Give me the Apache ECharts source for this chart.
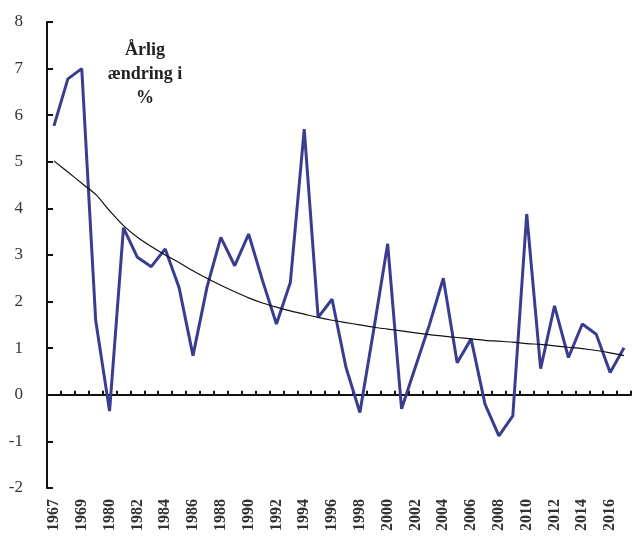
<!DOCTYPE html>
<html>
<head>
<meta charset="utf-8">
<script src="https://cdn.jsdelivr.net/npm/echarts@6/dist/echarts.min.js"></script>
<style>html,body{margin:0;padding:0;background:#fff;}#c{width:632px;height:545px;}</style>
</head>
<body>
<div id="c"></div>
<script>
var years = ['1967','1968','1969','1979','1980','1981','1982','1983','1984','1985','1986','1987','1988','1989','1990','1991','1992','1993','1994','1995','1996','1997','1998','1999','2000','2001','2002','2003','2004','2005','2006','2007','2008','2009','2010','2011','2012','2013','2014','2015','2016','2017'];
var change = [5.77,6.78,7.0,1.6,-0.35,3.58,2.95,2.75,3.13,2.3,0.84,2.3,3.38,2.77,3.45,2.45,1.52,2.41,5.7,1.66,2.05,0.59,-0.38,1.4,3.24,-0.3,0.6,1.5,2.5,0.69,1.2,-0.2,-0.88,-0.45,3.88,0.56,1.91,0.8,1.52,1.3,0.48,1.01];
var trend = [5.02,4.78,4.54,4.3,3.95,3.63,3.38,3.18,3.0,2.84,2.66,2.5,2.35,2.21,2.08,1.97,1.88,1.8,1.73,1.66,1.6,1.55,1.5,1.45,1.41,1.37,1.33,1.29,1.26,1.23,1.2,1.17,1.15,1.13,1.1,1.08,1.05,1.02,0.99,0.95,0.9,0.84];
var yTicks = {min: -2, max: 8, interval: 1};
var titleLines = ['Årlig', 'ændring i', '%'];

var chart = echarts.init(document.getElementById('c'));
chart.setOption({
  animation: false,
  backgroundColor: '#fff',
  grid: {left: 47, right: 1, top: 22, bottom: 57},
  graphic: [{
    type: 'text', x: 145, y: 38,
    style: {
      text: titleLines.join('\n'), textAlign: 'center', textVerticalAlign: 'top',
      font: 'bold 18px "Liberation Serif", serif', fill: '#222', lineHeight: 24
    }
  }],
  xAxis: [{
    type: 'category', data: years, boundaryGap: true,
    axisLine: {onZero: true, lineStyle: {color: '#111', width: 2}},
    axisTick: {show: true, inside: true, length: 4, interval: 0, lineStyle: {color: '#111', width: 2}},
    axisLabel: {show: false}, splitLine: {show: false}
  }, {
    type: 'category', data: years, boundaryGap: true, position: 'bottom',
    axisLine: {show: false, onZero: false}, axisTick: {show: false},
    axisLabel: {show: true, interval: 1, rotate: 90, margin: 11, fontFamily: '"Liberation Serif", serif', fontSize: 16, fontWeight: 'bold', color: '#333'},
    splitLine: {show: false}
  }],
  yAxis: {
    type: 'value', min: yTicks.min, max: yTicks.max, interval: yTicks.interval,
    axisLine: {show: true, lineStyle: {color: '#111', width: 2}},
    axisTick: {show: true, inside: true, length: 6, lineStyle: {color: '#111', width: 2}},
    axisLabel: {margin: 24, fontFamily: '"Liberation Serif", serif', fontSize: 17, color: '#333'},
    splitLine: {show: false}
  },
  series: [{
    type: 'line', data: change, xAxisIndex: 0, symbol: 'none',
    lineStyle: {color: '#3a3d8f', width: 3}, z: 3
  }, {
    type: 'line', data: trend, xAxisIndex: 0, symbol: 'none', smooth: 0.3,
    lineStyle: {color: '#111', width: 1.2}, z: 4
  }]
});
</script>
</body>
</html>
